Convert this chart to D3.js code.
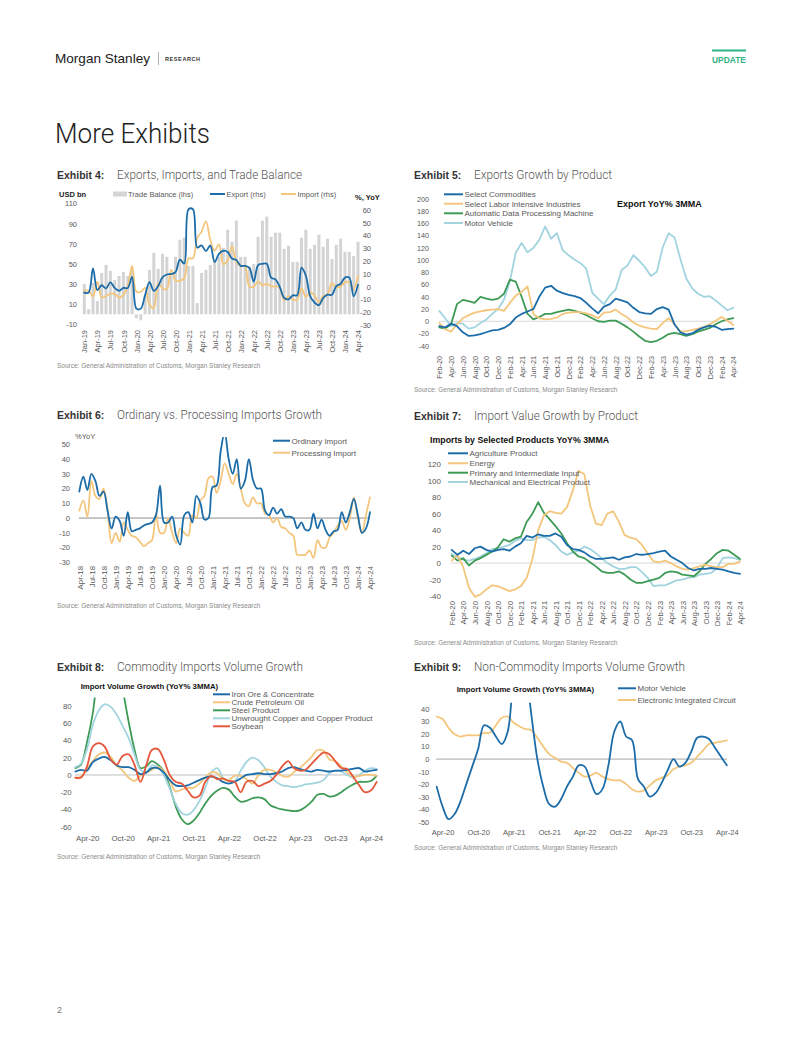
<!DOCTYPE html>
<html><head><meta charset="utf-8">
<script src="https://cdn.jsdelivr.net/npm/d3@7"></script>
<style>
html,body{margin:0;padding:0;background:#fff;}
svg{display:block;}
</style></head><body>
<svg id="page" width="802" height="1037"></svg>
<script>
// ---------------- DATA ----------------
const fmtM = d3.timeFormat("%b-%y");
function monthCats(y, m, n){ return d3.range(n).map(i => fmtM(new Date(y, m + i, 1))); }

// Exhibit 4 (Jan-19 .. Apr-24)
const ex4Months = monthCats(2019, 0, 64);
const tradeBalance = [30,5,31,13,41,49,43,34,38,42,38,45,
  -4,-6,19,44,61,45,60,57,38,57,74,76,
  48,48,11,41,44,49,55,57,66,84,72,93,
  57,57,47,50,77,93,97,77,81,81,65,68,
  52,52,76,84,65,69,79,67,75,55,69,75,
  62,62,58,72];
const exportYoY = [-4.6,-4.6,14.2,-2.7,1.1,-1.3,3.3,-1.0,-3.2,-0.9,-1.1,7.6,
  -17.2,-17.2,-6.6,3.5,-3.3,0.5,7.2,9.5,9.9,11.4,21.1,18.1,
  60.6,60.6,30.6,32.3,27.9,32.2,19.3,25.6,28.1,27.1,22.0,20.9,
  16.3,16.3,14.7,3.9,16.9,17.9,18.0,7.1,5.7,-0.3,-8.7,-9.9,
  -6.8,-6.8,14.8,8.5,-7.5,-12.4,-14.5,-8.8,-6.2,-6.4,0.5,2.3,
  7.1,7.1,-7.5,1.5];
const importYoY = [-3.1,-3.1,-7.6,4.0,-8.5,-7.3,-5.6,-5.6,-8.5,-6.4,0.3,16.3,
  -4.0,-4.0,-1.0,-14.2,-16.7,2.7,-1.4,-2.1,13.2,4.7,4.5,6.5,
  22.2,22.2,38.1,43.1,51.1,36.7,28.1,33.1,17.6,20.6,31.7,19.5,
  15.9,15.9,-0.1,0.0,4.1,1.0,2.3,0.3,0.3,-0.7,-10.6,-7.5,
  -10.2,-10.2,-1.4,-7.9,-4.5,-6.8,-12.4,-7.3,-6.2,3.0,-0.6,0.2,
  3.5,3.5,-1.9,8.4];

// Exhibit 5 (Feb-20 .. Apr-24)
const ex5Months = monthCats(2020, 1, 51);
const ex5Commodities = [-8,-10,-4,-8,-18,-24,-23,-21,-18,-15,-14,-11,-5,6,12,16,20,40,55,58,50,46,43,41,38,30,21,13,24,28,37,34,31,22,15,13,12,20,23,19,-5,-18,-22,-20,-14,-10,-7,-9,-14,-13,-12];
const ex5Labor = [-3,-13,-17,-5,5,10,14,16,18,19,20,17,30,42,48,57,12,5,3,4,6,12,14,15,15,13,10,5,14,15,19,12,6,-2,-7,-10,-12,-13,-3,5,-5,-17,-16,-14,-12,-9,-5,1,7,1,-6];
const ex5ADP = [-10,-12,-5,28,35,33,30,40,37,35,37,45,68,65,40,12,3,7,12,12,15,17,19,17,14,10,5,0,-1,1,1,-4,-10,-17,-25,-32,-34,-32,-27,-21,-19,-21,-24,-21,-17,-14,-11,-5,0,3,5];
const ex5Motor = [17,5,-8,-3,-4,-12,-10,-3,3,12,20,35,65,112,128,113,120,133,155,135,144,116,108,101,95,86,47,37,28,42,52,84,91,108,99,88,74,81,121,144,137,102,70,54,45,40,41,34,26,18,22];

// Exhibit 6 (Apr-18 .. Apr-24)
const ex6Months = monthCats(2018, 3, 73);
const ordinaryImport = [18,28,19,30,25,15,18,5,-7,1,-2,-12,4,-9,-8,-7,-5,-4,-3,2,22,-3,-3,1,-12,-18,2,4,-3,15,10,-1,0,21,22,45,58,40,30,40,20,25,40,26,20,20,5,2,7,3,6,1,1,0,-7,-3,-8,-8,3,-7,-1,-8,-12,-9,-8,4,-3,4,13,2,-10,-7,4];
const processingImport = [5,12,1,25,15,13,20,5,-17,-10,-16,-3,-8,-12,-13,-16,-19,-17,-15,3,-10,-10,0,-10,-17,-7,-10,-12,2,0,12,15,27,28,17,25,37,30,23,30,20,10,8,14,10,10,3,2,-3,0,-6,-7,-10,-12,-25,-25,-25,-22,-27,-15,-20,-20,-13,-10,-5,-2,-8,0,14,0,-10,2,14];

// Exhibit 7 (Feb-20 .. Apr-24)
const ex7Months = monthCats(2020, 1, 51);
const ex7Agri = [16,10,15,11,18,20,16,14,16,17,15,20,24,33,31,35,33,33,36,32,22,17,16,13,8,5,5,6,7,4,7,8,11,10,11,12,14,15,8,4,0,-6,-9,-7,-7,-6,-7,-8,-10,-12,-13];
const ex7Energy = [3,10,-5,-30,-41,-38,-32,-27,-28,-31,-34,-32,-28,-18,5,40,58,63,61,60,68,88,112,108,70,48,46,60,63,50,34,31,29,22,12,2,1,3,0,-4,-7,-8,-6,-4,-2,-4,-5,-5,-1,-1,2];
const ex7Primary = [9,3,6,-3,3,6,10,14,19,29,26,30,32,50,60,74,61,53,45,36,24,14,8,6,1,-4,-10,-12,-12,-10,-14,-20,-24,-24,-22,-20,-18,-12,-10,-11,-14,-15,-16,-10,-1,5,12,16,15,10,5];
const ex7Mech = [11,7,4,3,5,8,12,17,18,20,22,27,30,28,28,31,32,28,22,14,10,13,15,20,17,12,6,0,-4,-7,-7,-5,-5,-11,-18,-28,-27,-27,-24,-21,-20,-18,-17,-14,-13,-12,-6,6,7,6,4];

// Exhibit 8 (Jan-20 .. Apr-24, month-end)
const ex8Dates = d3.range(52).map(i => new Date(2020, i + 1, 0));
const ex8TickLabels = ["Apr-20","Oct-20","Apr-21","Oct-21","Apr-22","Oct-22","Apr-23","Oct-23","Apr-24"];
const ex8Iron = [4,6,5,15,19,21,17,11,9,9,6,1,3,8,8,3,-6,-12,-13,-12,-9,-6,-3,-2,-4,-8,-10,-8,-4,0,1,2,1,1,2,4,8,9,7,5,4,6,5,4,5,5,6,7,8,4,5,6];
const ex8Crude = [-3,-2,7,16,24,26,21,11,5,-3,-7,-1,3,6,9,5,-6,-19,-17,-15,-15,-10,-3,3,2,-5,-6,-1,-1,-5,-10,0,6,6,3,-1,-2,3,8,14,21,29,28,18,16,10,3,-2,-1,0,0,-1];
const ex8Steel = [8,12,38,72,130,160,160,130,100,62,30,8,10,16,12,5,-14,-36,-51,-57,-53,-44,-33,-24,-18,-15,-17,-25,-31,-30,-27,-26,-28,-35,-38,-40,-41,-42,-41,-37,-31,-23,-22,-25,-24,-20,-15,-11,-8,-8,-7,-1];
const ex8Copper = [9,13,30,58,75,82,79,70,57,43,24,6,4,11,9,0,-16,-33,-44,-46,-41,-30,-15,3,8,-3,-7,-7,5,15,20,17,9,-2,-8,-12,-13,-14,-13,-11,-10,-9,-6,2,5,4,0,-3,0,5,8,7];
const ex8Soy = [-3,-3,10,33,37,33,18,12,22,24,12,-8,12,29,30,18,0,-8,-10,-18,-26,-24,-8,-1,-5,-4,-7,-8,-20,-8,-7,-13,-10,-7,0,10,16,8,5,6,13,20,26,24,16,8,7,-2,-12,-20,-18,-8];

// Exhibit 9 (Mar-20 .. Apr-24)
const ex9Months = monthCats(2020, 2, 50);
const ex9Motor = [-22,-38,-48,-44,-34,-20,-6,8,27,25,18,12,22,70,100,75,35,0,-22,-36,-38,-32,-22,-14,-5,-6,-18,-28,-24,-5,22,30,18,15,-16,-22,-30,-27,-19,-9,0,-6,-3,6,17,18,16,9,2,-5];
const ex9EIC = [34,32,25,20,18,19,19,19,21,21,27,33,34,29,26,24,23,17,10,4,1,-2,-3,-7,-11,-14,-13,-11,-14,-16,-17,-17,-20,-24,-26,-25,-21,-17,-15,-13,-8,-6,-5,-3,2,7,12,13,14,15];

const SOURCE = "Source: General Administration of Customs, Morgan Stanley Research";

// ---------------- STYLE ----------------
const FONT = "'Liberation Sans', Arial, Helvetica, sans-serif";
const C = {blue:"#1b6ca8", gold:"#f3c67c", green:"#3e9b55", lblue:"#a2d4e0", red:"#e5573b", bar:"#d4d4d4", txt:"#595959"};
const numFmt = d => String(d);   // plain hyphen minus like the original

const svg = d3.select("#page");
svg.append("rect").attr("width",802).attr("height",1037).attr("fill","#fff");
const defs = svg.append("defs");

function txt(g, x, y, s, o){
  o = o || {};
  const t = g.append("text").attr("x",x).attr("y",y).text(s)
    .attr("font-family", o.family || FONT).attr("font-size", o.size || 8)
    .attr("fill", o.fill || C.txt);
  if (o.weight) t.attr("font-weight", o.weight);
  if (o.anchor) t.attr("text-anchor", o.anchor);
  if (o.len) t.attr("textLength", o.len).attr("lengthAdjust","spacingAndGlyphs");
  if (o.ls) t.attr("letter-spacing", o.ls);
  return t;
}
function heading(x, y, label, title, len){
  txt(svg, x, y, label, {size:10.5, weight:"bold", fill:"#333"});
  txt(svg, x+60, y, title, {size:12, family:"Roboto, 'Noto Sans', sans-serif", weight:300, fill:"#555", len:len});
}
function source(x, y){ txt(svg, x, y, SOURCE, {size:6.5, fill:"#8a8a8a"}); }
function styleAxis(a, size){
  a.attr("font-family", FONT).attr("font-size", size);
  a.select(".domain").remove();
  a.selectAll(".tick line").remove();
  a.selectAll("text").attr("fill", C.txt);
}
function yAxisLeft(y, vals, xr, size){
  const a = svg.append("g").attr("transform",`translate(${xr},0)`)
    .call(d3.axisLeft(y).tickValues(vals).tickFormat(numFmt).tickSize(0).tickPadding(0));
  styleAxis(a, size);
  return a;
}
function xAxisRot(x, vals, yTop, size){
  const a = svg.append("g").attr("transform",`translate(0,${yTop})`)
    .call(d3.axisBottom(x).tickValues(vals).tickSize(0).tickPadding(0));
  styleAxis(a, size);
  a.selectAll("text").attr("transform","rotate(-90)").attr("text-anchor","end")
    .attr("x",0).attr("y",0).attr("dy","0.35em");
  return a;
}
function xAxisFlat(x, vals, yBase, size, f){
  const ax = d3.axisBottom(x).tickValues(vals).tickSize(0).tickPadding(0);
  if (f) ax.tickFormat(f);
  const a = svg.append("g").attr("transform",`translate(0,${yBase})`).call(ax);
  styleAxis(a, size);
  a.selectAll("text").attr("y",0).attr("dy",0);
  return a;
}
function clip(id, x, y, w, h){
  defs.append("clipPath").attr("id", id).append("rect").attr("x",x).attr("y",y).attr("width",w).attr("height",h);
  return svg.append("g").attr("clip-path",`url(#${id})`);
}
function drawLine(g, x, y, cats, vals, color, w, curve){
  g.append("path").datum(vals)
    .attr("d", d3.line().x((d,i)=>x(cats[i])).y(d=>y(d)).curve(curve || d3.curveLinear))
    .attr("fill","none").attr("stroke",color).attr("stroke-width",w || 1.8)
    .attr("stroke-linejoin","round").attr("stroke-linecap","round");
}
function legendLine(x1, x2, y, color, label, size){
  svg.append("line").attr("x1",x1).attr("x2",x2).attr("y1",y).attr("y2",y)
    .attr("stroke",color).attr("stroke-width",2);
  txt(svg, x2+1.5, y+2.8, label, {size:size || 8});
}
function zeroLine(x, y, x1, x2, color){
  svg.append("line").attr("x1",x1).attr("x2",x2).attr("y1",y(0)).attr("y2",y(0))
    .attr("stroke",color).attr("stroke-width",1);
}
const smooth = d3.curveCatmullRom.alpha(0.5);

// ---------------- HEADER ----------------
txt(svg, 55, 63, "Morgan Stanley", {size:13.5, fill:"#1a1a1a", len:95});
svg.append("line").attr("x1",158.5).attr("x2",158.5).attr("y1",52).attr("y2",65).attr("stroke","#999").attr("stroke-width",0.8);
txt(svg, 165, 61, "RESEARCH", {size:5.5, weight:"bold", fill:"#333", ls:0.6});
svg.append("rect").attr("x",712).attr("y",49.5).attr("width",34).attr("height",2).attr("fill","#2fb485");
txt(svg, 712, 62.5, "UPDATE", {size:8.5, weight:"bold", fill:"#2fb485", len:34});
txt(svg, 55, 143, "More Exhibits", {size:27, family:"Roboto, 'Noto Sans', sans-serif", weight:300, fill:"#222", len:155});
txt(svg, 57, 1013, "2", {size:9, fill:"#777"});

// ---------------- EXHIBIT 4 ----------------
(function(){
  heading(57, 178.5, "Exhibit 4:", "Exports, Imports, and Trade Balance", 185);
  const x = d3.scalePoint().domain(ex4Months).range([84.3, 358]);
  const yL = d3.scaleLinear().domain([-10, 110]).range([324.3, 203.5]);
  const yR = d3.scaleLinear().domain([-30, 60]).range([325, 210]);
  const g = svg.append("g");
  g.selectAll("rect").data(tradeBalance).join("rect")
    .attr("x",(d,i)=>x(ex4Months[i]) - 1.5).attr("width",3)
    .attr("y",d=>yL(Math.max(0,d))).attr("height",d=>Math.abs(yL(d)-yL(0)))
    .attr("fill",C.bar);
  drawLine(g, x, yR, ex4Months, importYoY, C.gold, 1.8, smooth);
  drawLine(g, x, yR, ex4Months, exportYoY, C.blue, 1.8, smooth);
  yAxisLeft(yL, [-10,10,30,50,70,90,110], 77, 7.5);
  const r = svg.append("g").attr("transform","translate(359,0)")
    .call(d3.axisRight(yR).tickValues(d3.range(-30,61,10)).tickFormat(numFmt).tickSize(0).tickPadding(0));
  styleAxis(r, 7.5);
  r.selectAll("text").attr("text-anchor","end").attr("x",12);
  xAxisRot(x, ex4Months.filter((d,i)=>i%3===0), 330, 7.5);
  txt(svg, 59, 196.5, "USD bn", {size:7.5, weight:"bold", fill:"#222"});
  txt(svg, 355, 200, "%, YoY", {size:7.5, weight:"bold", fill:"#222"});
  svg.append("rect").attr("x",113).attr("y",191.5).attr("width",14).attr("height",5).attr("fill",C.bar);
  txt(svg, 128, 196.5, "Trade Balance (lhs)", {size:7.5});
  legendLine(210, 225, 194, C.blue, "Export (rhs)", 7.5);
  legendLine(281, 296, 194, C.gold, "Import (rhs)", 7.5);
  source(57, 367.5);
})();

// ---------------- EXHIBIT 5 ----------------
(function(){
  heading(414, 179, "Exhibit 5:", "Exports Growth by Product", 138);
  const x = d3.scalePoint().domain(ex5Months).range([439.3, 733.3]);
  const y = d3.scaleLinear().domain([-40, 200]).range([345.7, 199]);
  zeroLine(x, y, 439, 733, "#d9d9d9");
  const g = svg.append("g");
  drawLine(g, x, y, ex5Months, ex5Motor, C.lblue, 1.8);
  drawLine(g, x, y, ex5Months, ex5ADP, C.green, 1.8);
  drawLine(g, x, y, ex5Months, ex5Labor, C.gold, 1.8);
  drawLine(g, x, y, ex5Months, ex5Commodities, C.blue, 1.8);
  yAxisLeft(y, d3.range(-40, 201, 20), 429, 7.2);
  xAxisRot(x, ex5Months.filter((d,i)=>i%2===0), 356, 7.2);
  legendLine(444, 463, 194.3, C.blue, "Select Commodities");
  legendLine(444, 463, 203.7, C.gold, "Select Labor Intensive Industries");
  legendLine(444, 463, 213.3, C.green, "Automatic Data Processing Machine");
  legendLine(444, 463, 223, C.lblue, "Motor Vehicle");
  txt(svg, 617, 207, "Export YoY% 3MMA", {size:9, weight:"bold", fill:"#111"});
  source(414, 391.5);
})();

// ---------------- EXHIBIT 6 ----------------
(function(){
  heading(57, 419, "Exhibit 6:", "Ordinary vs. Processing Imports Growth", 205);
  const x = d3.scalePoint().domain(ex6Months).range([79.3, 370]);
  const y = d3.scaleLinear().domain([-30, 50]).range([562.3, 444.3]);
  zeroLine(x, y, 79, 370, "#8c8c8c");
  const g = clip("c6", 70, y(55), 310, y(-32)-y(55));
  drawLine(g, x, y, ex6Months, processingImport, C.gold, 1.8, smooth);
  drawLine(g, x, y, ex6Months, ordinaryImport, C.blue, 1.8, smooth);
  yAxisLeft(y, d3.range(-30, 51, 10), 70, 7.5);
  xAxisRot(x, ex6Months.filter((d,i)=>i%3===0), 566, 7.8);
  txt(svg, 75, 439, "%YoY", {size:7.5});
  legendLine(273, 290, 440.7, C.blue, "Ordinary Import");
  legendLine(273, 290, 452.7, C.gold, "Processing Import");
  source(57, 607.5);
})();

// ---------------- EXHIBIT 7 ----------------
(function(){
  heading(414, 419.5, "Exhibit 7:", "Import Value Growth by Product", 164);
  const x = d3.scalePoint().domain(ex7Months).range([451.7, 740]);
  const y = d3.scaleLinear().domain([-40, 120]).range([596, 464.3]);
  zeroLine(x, y, 451, 740, "#d9d9d9");
  const g = svg.append("g");
  drawLine(g, x, y, ex7Months, ex7Mech, C.lblue, 1.8);
  drawLine(g, x, y, ex7Months, ex7Primary, C.green, 1.8);
  drawLine(g, x, y, ex7Months, ex7Energy, C.gold, 1.8);
  drawLine(g, x, y, ex7Months, ex7Agri, C.blue, 1.8);
  yAxisLeft(y, d3.range(-40, 121, 20), 441, 8);
  xAxisRot(x, ex7Months.filter((d,i)=>i%2===0), 601, 7.8);
  txt(svg, 430, 443, "Imports by Selected Products YoY% 3MMA", {size:8.8, weight:"bold", fill:"#111"});
  legendLine(448, 468, 453.3, C.blue, "Agriculture Product");
  legendLine(448, 468, 463.3, C.gold, "Energy");
  legendLine(448, 468, 472.7, C.green, "Primary and Intermediate Input");
  legendLine(448, 468, 482, C.lblue, "Mechanical and Electrical Product");
  source(414, 645);
})();

// ---------------- EXHIBIT 8 ----------------
(function(){
  heading(57, 670.5, "Exhibit 8:", "Commodity Imports Volume Growth", 186);
  const parse = d3.timeParse("%b-%y");
  const ticks = ex8TickLabels.map(parse);
  const x = d3.scaleTime().domain([ticks[0], ticks[ticks.length-1]]).range([87.2, 371]);
  const y = d3.scaleLinear().domain([-60, 80]).range([826.7, 706]);
  zeroLine(x, y, 75, 377, "#bfbfbf");
  const g = clip("c8", 60, y(90), 330, y(-62)-y(90));
  drawLine(g, x, y, ex8Dates, ex8Steel, C.green, 1.8, smooth);
  drawLine(g, x, y, ex8Dates, ex8Copper, C.lblue, 1.8, smooth);
  drawLine(g, x, y, ex8Dates, ex8Crude, C.gold, 1.8, smooth);
  drawLine(g, x, y, ex8Dates, ex8Iron, C.blue, 1.8, smooth);
  drawLine(g, x, y, ex8Dates, ex8Soy, C.red, 1.8, smooth);
  yAxisLeft(y, d3.range(-60, 81, 20), 71.7, 7.8);
  xAxisFlat(x, ticks, 840.5, 7.8, d3.timeFormat("%b-%y"));
  txt(svg, 80.7, 688.5, "Import Volume Growth (YoY% 3MMA)", {size:7.8, weight:"bold", fill:"#111"});
  legendLine(213, 230, 694.3, C.blue, "Iron Ore & Concentrate");
  legendLine(213, 230, 702.3, C.gold, "Crude Petroleum Oil");
  legendLine(213, 230, 710.3, C.green, "Steel Product");
  legendLine(213, 230, 718.3, C.lblue, "Unwrought Copper and Copper Product");
  legendLine(213, 230, 726.3, C.red, "Soybean");
  source(57, 858.5);
})();

// ---------------- EXHIBIT 9 ----------------
(function(){
  heading(414, 670.5, "Exhibit 9:", "Non-Commodity Imports Volume Growth", 211);
  const x = d3.scalePoint().domain(ex9Months).range([436.7, 726.8]);
  const y = d3.scaleLinear().domain([-50, 40]).range([821.7, 709]);
  zeroLine(x, y, 436, 727, "#a6a6a6");
  const g = clip("c9", 420, y(45), 320, y(-52)-y(45));
  drawLine(g, x, y, ex9Months, ex9EIC, C.gold, 1.8, smooth);
  drawLine(g, x, y, ex9Months, ex9Motor, C.blue, 1.8, smooth);
  yAxisLeft(y, d3.range(-50, 41, 10), 429.3, 7.5);
  xAxisFlat(x, ex9Months.filter((d,i)=>i%6===1), 835, 7.5);
  txt(svg, 456.7, 692, "Import Volume Growth (YoY% 3MMA)", {size:7.8, weight:"bold", fill:"#111"});
  legendLine(618, 636, 688.3, C.blue, "Motor Vehicle");
  legendLine(618, 636, 700, C.gold, "Electronic Integrated Circuit");
  source(414, 850);
})();
</script>
</body></html>
